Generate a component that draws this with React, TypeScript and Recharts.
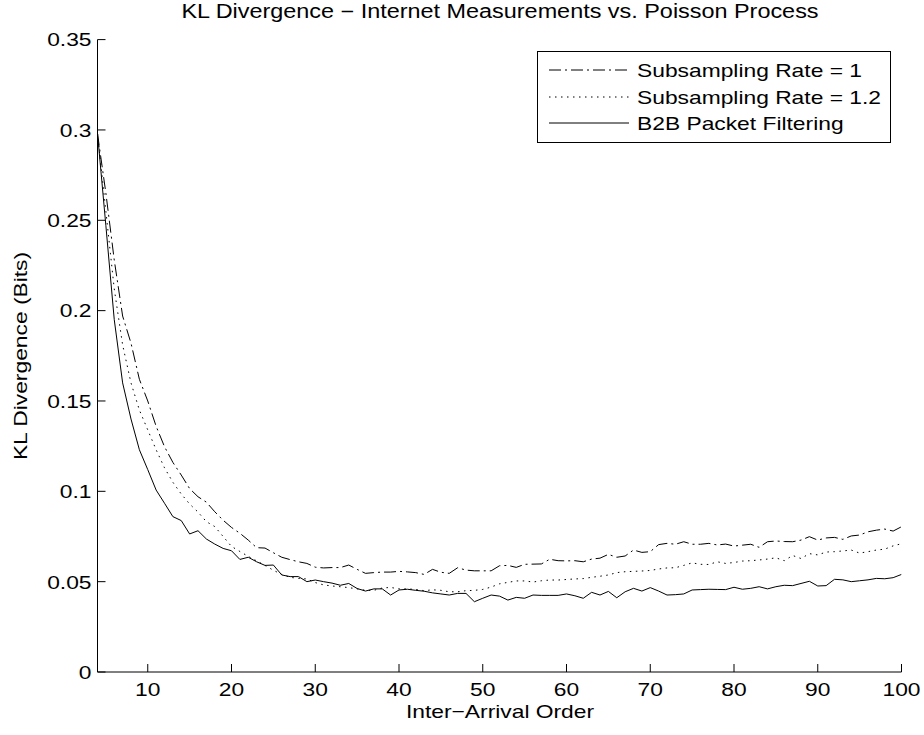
import React from 'react';
import { LineChart, Line, XAxis, YAxis } from 'recharts';

// inter-arrival order starts at 4, one value per order up to 100
const FIRST_ORDER = 4;

const RATE_1 = [
    0.298, 0.265, 0.228, 0.197, 0.182, 0.162, 0.150, 0.136, 0.1247, 0.116,
    0.109, 0.1015, 0.097, 0.094, 0.0887, 0.084, 0.080, 0.0768, 0.073, 0.0688,
    0.0686, 0.066, 0.0635, 0.0622, 0.061, 0.0601, 0.058, 0.0576, 0.0578, 0.0578,
    0.0592, 0.0568, 0.0546, 0.055, 0.0553, 0.0553, 0.0557, 0.0554, 0.055, 0.054,
    0.0568, 0.0552, 0.0546, 0.0577, 0.0564, 0.056, 0.056, 0.056, 0.0588, 0.059,
    0.0579, 0.0596, 0.0597, 0.0598, 0.0624, 0.0616, 0.0615, 0.0616, 0.061, 0.0625,
    0.063, 0.0651, 0.0635, 0.0642, 0.0675, 0.0662, 0.0666, 0.0705, 0.0712, 0.0707,
    0.0721, 0.0707, 0.0707, 0.0712, 0.0703, 0.0708, 0.0697, 0.0702, 0.0707, 0.069,
    0.0721, 0.0725, 0.0722, 0.0721, 0.073, 0.0749, 0.073, 0.0742, 0.0745, 0.0734,
    0.0753, 0.0758, 0.0776, 0.0785, 0.0791, 0.078, 0.0804,
];

const RATE_1_2 = [
    0.298, 0.255, 0.212, 0.181, 0.160, 0.145, 0.134, 0.123, 0.113, 0.105,
    0.0985, 0.093, 0.0885, 0.0832, 0.0805, 0.075, 0.0695, 0.0667, 0.064, 0.0615,
    0.059, 0.0563, 0.054, 0.0524, 0.0518, 0.0515, 0.0495, 0.0482, 0.0476, 0.0472,
    0.0467, 0.046, 0.0452, 0.0452, 0.0465, 0.0468, 0.046, 0.046, 0.0457, 0.045,
    0.0455, 0.0452, 0.0444, 0.0444, 0.045, 0.0452, 0.0457, 0.047, 0.0488, 0.0496,
    0.0504, 0.0504, 0.0498, 0.0505, 0.0509, 0.0509, 0.0512, 0.0515, 0.0517, 0.0524,
    0.053, 0.0537, 0.055, 0.0555, 0.0557, 0.0559, 0.0562, 0.057, 0.0576, 0.0577,
    0.059, 0.0604, 0.0596, 0.0595, 0.061, 0.0601, 0.0606, 0.0614, 0.0616, 0.062,
    0.0625, 0.0632, 0.0616, 0.0645, 0.0628, 0.0655, 0.0648, 0.0664, 0.0666, 0.067,
    0.0675, 0.0658, 0.0666, 0.0675, 0.068, 0.0698, 0.071,
];

const B2B = [
    0.298, 0.247, 0.195, 0.160, 0.140, 0.123, 0.112, 0.1007, 0.0934, 0.086,
    0.0838, 0.0764, 0.0782, 0.0736, 0.0708, 0.0684, 0.0671, 0.0623, 0.0635, 0.061,
    0.059, 0.0592, 0.0537, 0.0528, 0.0528, 0.050, 0.0509, 0.050, 0.0492, 0.048,
    0.049, 0.0462, 0.0448, 0.046, 0.046, 0.0426, 0.0454, 0.0458, 0.0452, 0.0447,
    0.0438, 0.0432, 0.0426, 0.0435, 0.0435, 0.0389, 0.0408, 0.0426, 0.042, 0.0398,
    0.0413, 0.0408, 0.0426, 0.0424, 0.0424, 0.0424, 0.0432, 0.0422, 0.0408, 0.0441,
    0.0426, 0.0446, 0.0411, 0.0444, 0.0463, 0.0448, 0.0467, 0.0448, 0.0426, 0.0428,
    0.0432, 0.0454, 0.0456, 0.0458, 0.0457, 0.0456, 0.0469, 0.0458, 0.0463, 0.0472,
    0.046, 0.0472, 0.048, 0.0478, 0.049, 0.0502, 0.0476, 0.0478, 0.0513, 0.051,
    0.050, 0.0505, 0.051, 0.0518, 0.0516, 0.0522, 0.054,
];

const X_TICKS = [10, 20, 30, 40, 50, 60, 70, 80, 90, 100];
const Y_TICKS = [0, 0.05, 0.1, 0.15, 0.2, 0.25, 0.3, 0.35];
const SERIES_NAMES = ['Subsampling Rate = 1', 'Subsampling Rate = 1.2', 'B2B Packet Filtering'];

const data = B2B.map((_, i) => ({
    order: FIRST_ORDER + i,
    rate1: RATE_1[i],
    rate12: RATE_1_2[i],
    b2b: B2B[i],
}));

const SERIES = [
    { key: 'rate1', name: SERIES_NAMES[0], dash: '12 4 2 4' },
    { key: 'rate12', name: SERIES_NAMES[1], dash: '1.5 4.5' },
    { key: 'b2b', name: SERIES_NAMES[2], dash: undefined as string | undefined },
];

const FONT = '"Liberation Sans", Arial, Helvetica, sans-serif';
const SX = 1.2; // matlab's helvetica comes out wider than arial
const FS = 19;
const TICK = 8;

const BottomTick = ({ x, y, payload }: any) => (
    <g>
        <line x1={x} y1={y} x2={x} y2={y - TICK} stroke="#000" />
        <text transform={`translate(${x},${y + 24}) scale(${SX},1)`} textAnchor="middle"
            fontSize={FS} fontFamily={FONT} fill="#000">{payload.value}</text>
    </g>
);

const TopTick = ({ x, y }: any) => <line x1={x} y1={y} x2={x} y2={y + TICK} stroke="#000" />;

const LeftTick = ({ x, y, payload }: any) => (
    <g>
        <line x1={x} y1={y} x2={x + TICK} y2={y} stroke="#000" />
        <text transform={`translate(${x - 6},${y}) scale(${SX},1)`} textAnchor="end" dy="0.36em"
            fontSize={FS} fontFamily={FONT} fill="#000">{String(payload.value)}</text>
    </g>
);

const RightTick = ({ x, y }: any) => <line x1={x} y1={y} x2={x - TICK} y2={y} stroke="#000" />;

const textStyle: React.CSSProperties = {
    position: 'absolute',
    whiteSpace: 'nowrap',
    fontSize: FS,
    lineHeight: `${FS}px`,
    color: '#000',
};

export default function App() {
    return (
        <div style={{ position: 'absolute', left: 0, top: 0, width: 924, height: 735, background: '#fff', fontFamily: FONT }}>
            <LineChart width={924} height={735} data={data}
                margin={{ top: 39.6, right: 22.5, bottom: 33, left: 37.5 }}>
                <XAxis dataKey="order" type="number" domain={[4, 100]} ticks={X_TICKS} interval={0}
                    tickSize={0} tickMargin={0} tick={<BottomTick />} height={30}
                    axisLine={{ stroke: '#000' }} allowDataOverflow />
                <XAxis xAxisId="top" orientation="top" dataKey="order" type="number" domain={[4, 100]}
                    ticks={X_TICKS} interval={0} tickSize={0} tickMargin={0} tick={<TopTick />} height={0}
                    axisLine={{ stroke: '#000' }} allowDataOverflow />
                <YAxis type="number" domain={[0, 0.35]} ticks={Y_TICKS} interval={0} width={60}
                    tickSize={0} tickMargin={0} tick={<LeftTick />} axisLine={{ stroke: '#000' }} allowDataOverflow />
                <YAxis yAxisId="right" orientation="right" type="number" domain={[0, 0.35]} ticks={Y_TICKS}
                    interval={0} width={0} tickSize={0} tickMargin={0} tick={<RightTick />}
                    axisLine={{ stroke: '#000' }} allowDataOverflow />
                {SERIES.map(s => (
                    <Line key={s.key} type="linear" dataKey={s.key} name={s.name} stroke="#000" strokeWidth={1}
                        strokeDasharray={s.dash} dot={false} activeDot={false} isAnimationActive={false} />
                ))}
            </LineChart>

            <div style={{ ...textStyle, fontSize: 19.5, left: 499.5, top: 11, transform: `translate(-50%,-50%) scaleX(${SX})` }}>
                KL Divergence − Internet Measurements vs. Poisson Process
            </div>
            <div style={{ ...textStyle, left: 499.5, top: 711, transform: `translate(-50%,-50%) scaleX(${SX})` }}>
                Inter−Arrival Order
            </div>
            <div style={{ ...textStyle, left: 20, top: 356, transform: `translate(-50%,-50%) rotate(-90deg) scaleX(${SX})` }}>
                KL Divergence (Bits)
            </div>

            <div style={{
                position: 'absolute', left: 537, top: 51, width: 354, height: 92, boxSizing: 'border-box',
                border: '1px solid #000', background: '#fff',
            }}>
                {SERIES.map((s, i) => (
                    <div key={s.key} style={{ position: 'absolute', left: 0, top: 18 + 26.5 * i, width: '100%' }}>
                        <svg width={80} height={4} style={{ position: 'absolute', left: 11, top: -2 }}>
                            <line x1={0} y1={2} x2={80} y2={2} stroke="#000" strokeWidth={1} strokeDasharray={s.dash} />
                        </svg>
                        <div style={{ ...textStyle, left: 99, top: 0, transformOrigin: 'left center', transform: `translateY(-50%) scaleX(${SX})` }}>
                            {s.name}
                        </div>
                    </div>
                ))}
            </div>
        </div>
    );
}
